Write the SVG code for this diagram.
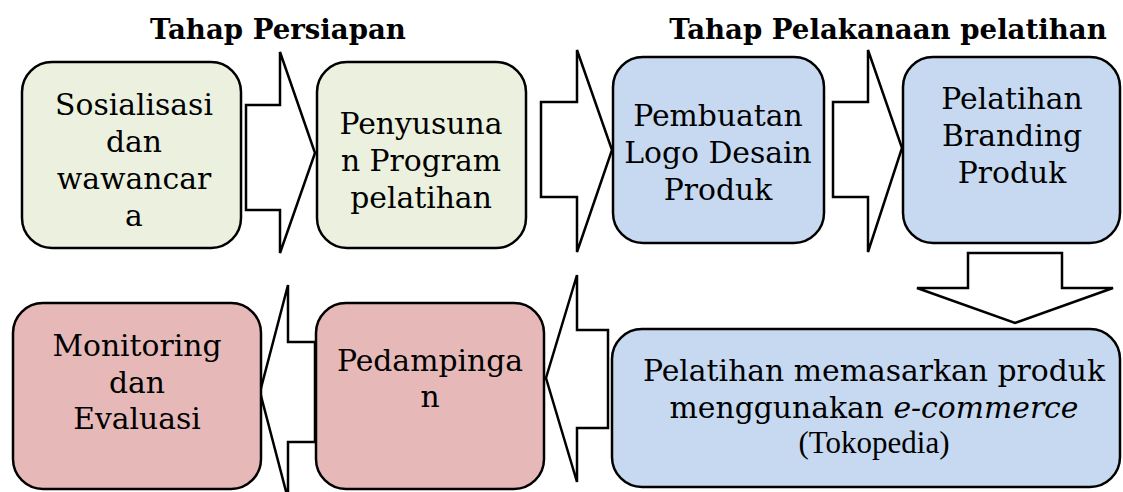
<svg xmlns="http://www.w3.org/2000/svg" width="1123" height="492" viewBox="0 0 1123 492">
<style>
.box{stroke:#000;stroke-width:2.5}
.g{fill:#EBF1DE}.b{fill:#C6D9F1}.p{fill:#E6B9B8}
.arr{fill:#fff;stroke:#000;stroke-width:2.5;stroke-linejoin:miter}
.t{font-family:"DejaVu Serif",serif;font-size:29.8px;fill:#000;text-anchor:middle}
.h{font-family:"DejaVu Serif",serif;font-size:27.6px;font-weight:bold;fill:#000;text-anchor:middle}
.tr{font-family:"Liberation Serif",serif;font-size:31px;fill:#000;text-anchor:middle}
</style>
<rect width="1123" height="492" fill="#fff"/>
<text class="h" x="278" y="39">Tahap Persiapan</text>
<text class="h" x="888" y="39">Tahap Pelakanaan pelatihan</text>
<g id="connectors">
<polygon class="arr" points="246,105 280,105 280,52 315,153 280,253 280,210 246,210"/>
<polygon class="arr" points="541,102 577,102 577,50 612,150 577,252 577,197 541,197"/>
<polygon class="arr" points="833,102 868,102 868,50 902,148 868,252 868,197 833,197"/>
<polygon class="arr" points="968,253 1062,253 1062,288 1113,288 1015,323 917,288 968,288"/>
<polygon class="arr" points="608,330 577,330 577,275 546,378 577,482 577,428 608,428"/>
<polygon class="arr" points="315,342 288,342 288,285 260,392 288,499 288,442 315,442"/>
</g>
<g id="n1"><rect class="box g" x="22" y="62" width="219" height="186" rx="30"/>
<text class="t" x="134" y="115">Sosialisasi</text><text class="t" x="134" y="152">dan</text><text class="t" x="134" y="189">wawancar</text><text class="t" x="134" y="226">a</text></g>
<g id="n2"><rect class="box g" x="317" y="62" width="209" height="186" rx="30"/>
<text class="t" x="421" y="134">Penyusuna</text><text class="t" x="421" y="171">n Program</text><text class="t" x="421" y="208">pelatihan</text></g>
<g id="n3"><rect class="box b" x="613" y="57" width="211" height="186" rx="30"/>
<text class="t" x="718" y="126">Pembuatan</text><text class="t" x="718" y="163">Logo Desain</text><text class="t" x="718" y="200">Produk</text></g>
<g id="n4"><rect class="box b" x="903" y="57" width="217" height="186" rx="30"/>
<text class="t" x="1012" y="109">Pelatihan</text><text class="t" x="1012" y="146">Branding</text><text class="t" x="1012" y="183">Produk</text></g>
<g id="n5"><rect class="box b" x="612" y="329" width="508" height="158" rx="30"/>
<text class="t" x="874" y="381">Pelatihan memasarkan produk</text>
<text class="t" x="874" y="418">menggunakan <tspan font-style="italic">e-commerce</tspan></text>
<text class="tr" x="874" y="453">(Tokopedia)</text></g>
<g id="n6"><rect class="box p" x="316" y="303" width="228" height="186" rx="30"/>
<text class="t" x="430" y="371">Pedampinga</text><text class="t" x="430" y="407">n</text></g>
<g id="n7"><rect class="box p" x="13" y="303" width="248" height="186" rx="30"/>
<text class="t" x="137" y="356">Monitoring</text><text class="t" x="137" y="393">dan</text><text class="t" x="137" y="429">Evaluasi</text></g>
</svg>
